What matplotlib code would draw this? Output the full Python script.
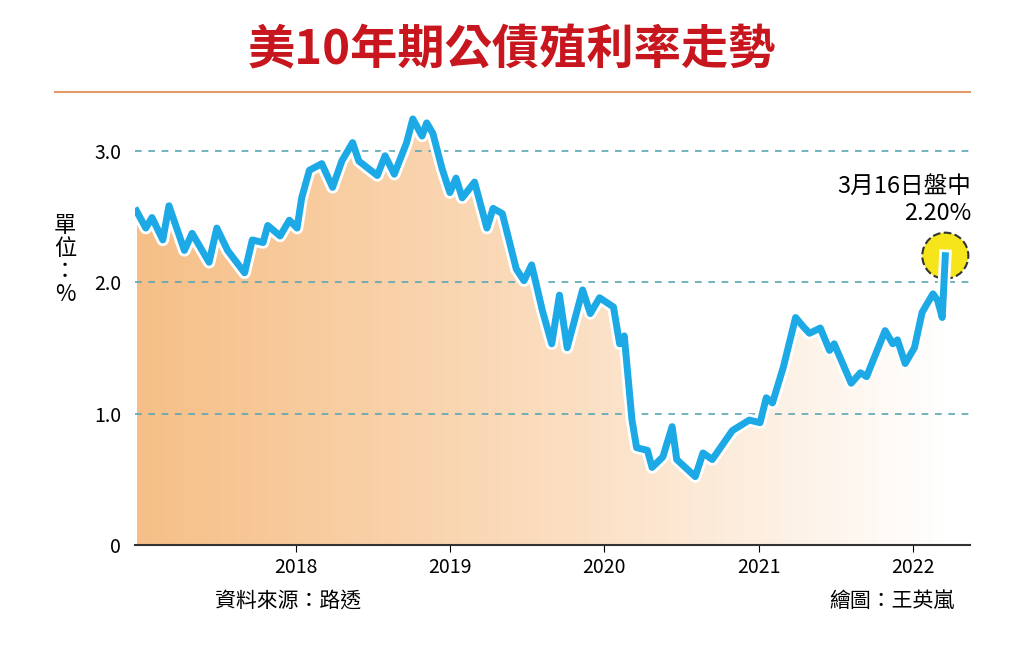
import matplotlib.pyplot as plt
import matplotlib.patheffects as pe
import numpy as np
from matplotlib.colors import LinearSegmentedColormap

plt.rcParams['font.family'] = ['Noto Sans CJK TC', 'DejaVu Sans']

# decimal year, yield (%)
years = [2016.97, 2017.03, 2017.07, 2017.14, 2017.18, 2017.28, 2017.33, 2017.44, 2017.49,
         2017.56, 2017.67, 2017.72, 2017.79, 2017.82, 2017.90, 2017.96, 2018.01, 2018.04,
         2018.09, 2018.17, 2018.24, 2018.30, 2018.37, 2018.41, 2018.53, 2018.58, 2018.64,
         2018.72, 2018.76, 2018.82, 2018.85, 2018.89, 2018.95, 2019.00, 2019.04, 2019.08,
         2019.16, 2019.24, 2019.28, 2019.34, 2019.43, 2019.48, 2019.53, 2019.60, 2019.66,
         2019.71, 2019.76, 2019.86, 2019.91, 2019.97, 2020.06, 2020.10, 2020.13, 2020.18,
         2020.21, 2020.28, 2020.31, 2020.38, 2020.44, 2020.47, 2020.59, 2020.64, 2020.70,
         2020.83, 2020.94, 2021.01, 2021.05, 2021.09, 2021.16, 2021.24, 2021.29, 2021.33,
         2021.40, 2021.46, 2021.49, 2021.60, 2021.66, 2021.70, 2021.82, 2021.87, 2021.90,
         2021.95, 2022.01, 2022.06, 2022.13, 2022.16, 2022.19, 2022.21]
yields = [2.54, 2.41, 2.49, 2.32, 2.58, 2.24, 2.37, 2.15, 2.41,
          2.24, 2.07, 2.32, 2.30, 2.43, 2.35, 2.47, 2.41, 2.64,
          2.85, 2.90, 2.72, 2.92, 3.06, 2.92, 2.81, 2.96, 2.82,
          3.06, 3.24, 3.11, 3.21, 3.13, 2.86, 2.68, 2.79, 2.64,
          2.76, 2.41, 2.56, 2.52, 2.10, 2.01, 2.13, 1.78, 1.53,
          1.90, 1.50, 1.94, 1.76, 1.88, 1.81, 1.53, 1.59, 0.95,
          0.74, 0.72, 0.59, 0.67, 0.90, 0.65, 0.52, 0.70, 0.65,
          0.87, 0.95, 0.93, 1.12, 1.08, 1.35, 1.73, 1.66, 1.61,
          1.65, 1.48, 1.53, 1.23, 1.31, 1.28, 1.63, 1.53, 1.56,
          1.38, 1.50, 1.77, 1.91, 1.86, 1.73, 2.20]
year_ticks = [2018, 2019, 2020, 2021, 2022]
y_ticks = [0, 1.0, 2.0, 3.0]
y_labels = ["0", "1.0", "2.0", "3.0"]
last_label = "3月16日盤中\n2.20%"

fig = plt.figure(figsize=(10.24, 6.51), dpi=100)
ax = fig.add_axes([135/1024, 1-545/651, (970-135)/1024, (545-115)/651])
xmin, xmax, ymax = 2016.96, 2022.37, 3.27
ax.set_xlim(xmin, xmax)
ax.set_ylim(0, ymax)

# gradient fill under the line
cmap = LinearSegmentedColormap.from_list("g", ["#f6bf87", "#fbdcbd", "#ffffff"])
grad = np.linspace(0, 1, 256).reshape(1, -1)
img = ax.imshow(grad, extent=[years[0], years[-1], 0, ymax], aspect='auto', cmap=cmap, zorder=1)
poly = ax.fill_between(years, yields, 0, color='none')
img.set_clip_path(poly.get_paths()[0], transform=ax.transData)

for v in y_ticks[1:]:
    ax.axhline(v, color='#5aa6b4', ls=(0, (4, 4)), lw=1.2, zorder=2)

ax.plot(years, yields, color='#1ca9e6', lw=5, solid_joinstyle='round', zorder=4,
        path_effects=[pe.Stroke(linewidth=9, foreground='white'), pe.Normal()])
ax.scatter([years[-1]], [yields[-1]], s=1100, color='#f5e51a', edgecolor='#333333',
           linestyle='--', linewidth=1.5, zorder=3)
ax.text(2022.38, 2.43, last_label, ha='right', va='bottom', fontsize=17, linespacing=1.25)

for s in ['top', 'right', 'left']:
    ax.spines[s].set_visible(False)
ax.spines['bottom'].set_color('#333333')
ax.spines['bottom'].set_linewidth(1.5)
ax.set_xticks(year_ticks)
ax.set_xticklabels([str(y) for y in year_ticks], fontsize=14)
ax.set_yticks(y_ticks)
ax.set_yticklabels(y_labels, fontsize=14)
ax.tick_params(axis='y', length=0, pad=10)
ax.tick_params(axis='x', length=5, direction='out')

fig.text(0.5, 1-50/651, "美10年期公債殖利率走勢", ha='center', va='center', fontsize=34,
         fontweight='bold', color='#c8161e')
fig.add_artist(plt.Line2D([55/1024, 970/1024], [1-92/651, 1-92/651], color='#e39a6a', lw=1.5))
fig.text(65/1024, 1-260/651, "單\n位\n：\n%", ha='center', va='center', fontsize=16, linespacing=1.0)
fig.text(215/1024, 1-601/651, "資料來源：路透", ha='left', va='center', fontsize=15)
fig.text(955/1024, 1-601/651, "繪圖：王英嵐", ha='right', va='center', fontsize=15)

fig.savefig("out.png", dpi=100)
